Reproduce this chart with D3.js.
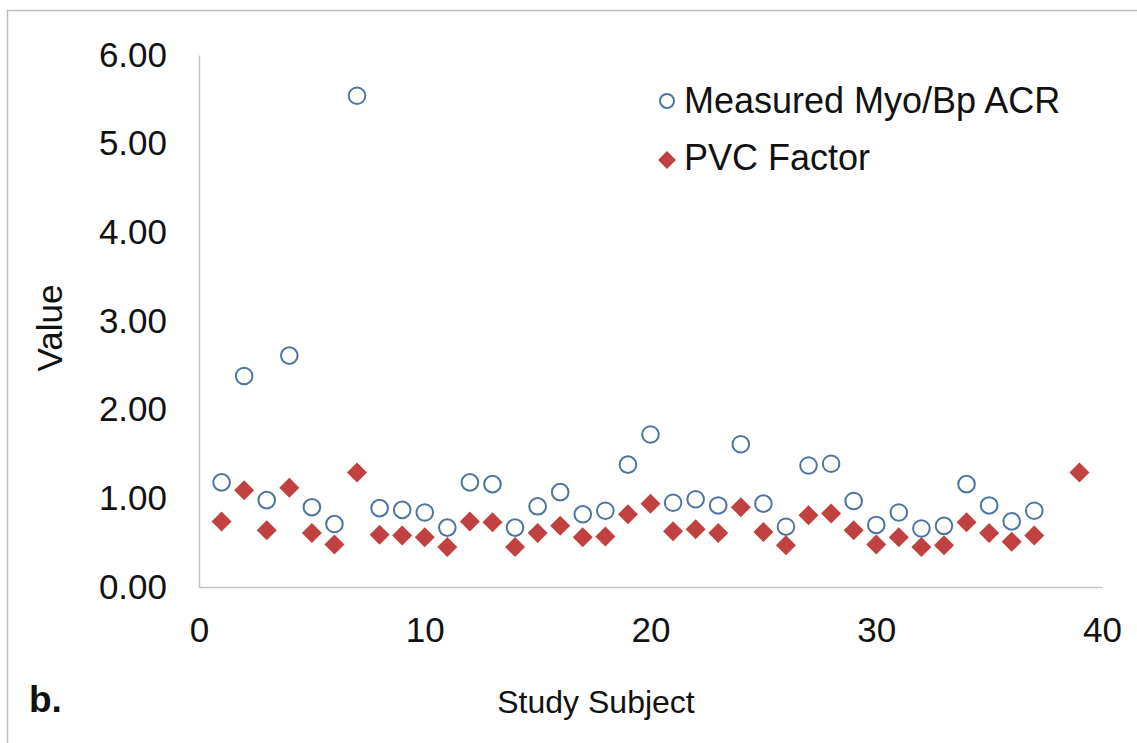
<!DOCTYPE html>
<html>
<head>
<meta charset="utf-8">
<script src="https://cdn.jsdelivr.net/npm/d3@7"></script>
<style>
  body { margin: 0; background: #fff; }
  svg text { font-family: "Liberation Sans", Arial, sans-serif; fill: #111; }
</style>
</head>
<body>
<svg id="chart" width="1137" height="743"></svg>
<script>
// data
const acrSubjects = [1,2,3,4,5,6,7,8,9,10,11,12,13,14,15,16,17,18,19,20,21,22,23,24,25,26,27,28,29,30,31,32,33,34,35,36,37];
const acrValues = [1.18,2.38,0.98,2.61,0.90,0.71,5.54,0.89,0.87,0.84,0.67,1.18,1.16,0.67,0.91,1.07,0.82,0.86,1.38,1.72,0.95,0.99,0.92,1.61,0.94,0.68,1.37,1.39,0.97,0.70,0.84,0.66,0.69,1.16,0.92,0.74,0.86];
const pvcSubjects = [1,2,3,4,5,6,7,8,9,10,11,12,13,14,15,16,17,18,19,20,21,22,23,24,25,26,27,28,29,30,31,32,33,34,35,36,37,39];
const pvcValues = [0.74,1.09,0.64,1.12,0.61,0.48,1.29,0.59,0.58,0.56,0.45,0.74,0.73,0.45,0.61,0.69,0.56,0.57,0.82,0.94,0.63,0.65,0.61,0.90,0.62,0.47,0.81,0.83,0.64,0.48,0.56,0.45,0.47,0.73,0.61,0.51,0.58,1.29];
const xTicks = [0,10,20,30,40];
const yTicks = [0,1,2,3,4,5,6];
const seriesNames = ['Measured Myo/Bp ACR', 'PVC Factor'];

const blue = '#4e74a2';
const red = '#c0413f';

const svg = d3.select('#chart');

// outer frame
svg.append('rect')
  .attr('x', 7.5).attr('y', 10.5)
  .attr('width', 1140).attr('height', 740)
  .attr('fill', 'none')
  .attr('stroke', '#bdbdbd')
  .attr('stroke-width', 1.5)

const xScale = d3.scaleLinear().domain([0, 40]).range([199, 1102]);
const yScale = d3.scaleLinear().domain([0, 6]).range([587, 55]);

// x axis
const xAxis = svg.append('g')
  .attr('transform', `translate(0, ${yScale(0)})`)
  .call(d3.axisBottom(xScale).tickValues(xTicks).tickSize(0).tickPadding(30).tickFormat(d3.format('d')))
xAxis.select('.domain').attr('stroke', '#c4c4c4').attr('stroke-width', 1.5)
xAxis.selectAll('text').attr('font-size', 35).style('font-family', '"Liberation Sans", Arial, sans-serif').attr('fill', '#111')

// y axis
const yAxis = svg.append('g')
  .attr('transform', `translate(${xScale(0)}, 0)`)
  .call(d3.axisLeft(yScale).tickValues(yTicks).tickSize(0).tickPadding(32).tickFormat(d3.format('.2f')))
yAxis.select('.domain').attr('stroke', '#c4c4c4').attr('stroke-width', 1.5)
yAxis.selectAll('text').attr('font-size', 35).style('font-family', '"Liberation Sans", Arial, sans-serif').attr('fill', '#111')

// ACR points
svg.append('g')
  .selectAll('circle')
  .data(acrSubjects.map((s, i) => ({x: s, y: acrValues[i]})))
  .enter()
  .append('circle')
  .attr('cx', d => xScale(d.x))
  .attr('cy', d => yScale(d.y))
  .attr('r', 8.3)
  .attr('fill', 'none')
  .attr('stroke', blue)
  .attr('stroke-width', 2)

// PVC points
const diamond = d3.symbol().type(d3.symbolSquare).size(200);
svg.append('g')
  .selectAll('path')
  .data(pvcSubjects.map((s, i) => ({x: s, y: pvcValues[i]})))
  .enter()
  .append('path')
  .attr('d', diamond)
  .attr('transform', d => `translate(${xScale(d.x)}, ${yScale(d.y)}) rotate(45)`)
  .attr('fill', red)

// legend
const legend = svg.append('g')
legend.append('circle')
  .attr('cx', 667).attr('cy', 101).attr('r', 7)
  .attr('fill', 'none').attr('stroke', blue).attr('stroke-width', 2)
legend.append('path')
  .attr('d', d3.symbol().type(d3.symbolSquare).size(160))
  .attr('transform', 'translate(667, 160) rotate(45)')
  .attr('fill', red)
legend.selectAll('text')
  .data(seriesNames)
  .enter()
  .append('text')
  .attr('x', 684)
  .attr('y', (d, i) => 113 + i * 57)
  .attr('font-size', 36)
  .text(d => d)

// axis titles
svg.append('text')
  .attr('transform', 'translate(62, 328) rotate(-90)')
  .attr('text-anchor', 'middle')
  .attr('font-size', 35)
  .text('Value')

svg.append('text')
  .attr('x', 596)
  .attr('y', 713)
  .attr('text-anchor', 'middle')
  .attr('font-size', 32)
  .text('Study Subject')

svg.append('text')
  .attr('x', 29)
  .attr('y', 712)
  .attr('font-size', 37)
  .attr('font-weight', 'bold')
  .text('b.')
</script>
</body>
</html>
